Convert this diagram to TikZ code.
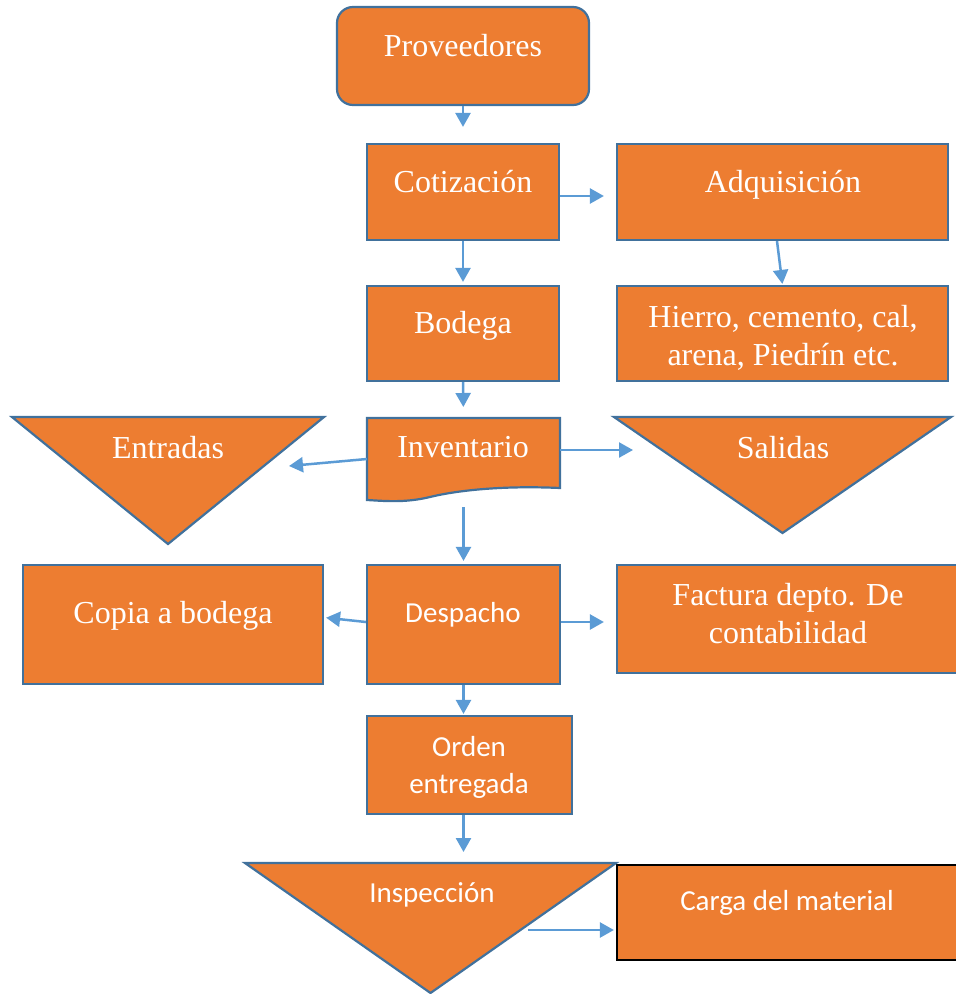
\documentclass[tikz,border=0pt]{standalone}
\usepackage{fontspec}
\newfontfamily\timesfont{Liberation Serif}
\newfontfamily\califont{Carlito}
\usetikzlibrary{arrows.meta,calc}
\definecolor{orf}{HTML}{ED7D31}
\definecolor{bord}{HTML}{41719C}
\definecolor{arrc}{HTML}{5B9BD5}
\begin{document}
\begin{tikzpicture}[x=1pt,y=-1pt,
  box/.style={draw=bord, fill=orf, line width=2.2pt, inner sep=0pt},
  hold/.style={inner sep=0pt, outer sep=0pt},
  shp/.style={draw=bord, fill=orf, line width=2.2pt, line join=miter},
  tr/.style={text=white, font=\timesfont\fontsize{32}{37}\selectfont, anchor=base, inner sep=0pt, align=center},
  cl/.style={text=white, font=\califont\fontsize{29}{38}\selectfont, anchor=base, inner sep=0pt, align=center},
  arr/.style={draw=arrc, line width=2.5pt, -{Triangle[length=14pt,width=15pt]}}]
\useasboundingbox (0,0) rectangle (956,994);

% boxes
\node[box, rounded corners=16pt, minimum width=252pt, minimum height=98pt] (prov) at (463,56) {};
\node[box, minimum width=192pt, minimum height=96pt] (cot) at (463,192) {};
\node[box, minimum width=331pt, minimum height=96pt] (adq) at (782.5,192) {};
\node[box, minimum width=192pt, minimum height=95pt] (bod) at (463,333.5) {};
\node[box, minimum width=331pt, minimum height=95pt] (hie) at (782.5,333.5) {};
\node[box, minimum width=193pt, minimum height=119pt] (desp) at (463.5,624.5) {};
\node[box, minimum width=300pt, minimum height=119pt] (copia) at (173,624.5) {};
\node[box, minimum width=346pt, minimum height=108pt] (fact) at (790,619) {};
\node[box, minimum width=205pt, minimum height=98pt] (orden) at (469.5,765) {};
\node[box, draw=black, minimum width=346pt, minimum height=95pt] (carga) at (790,912.5) {};

% holders for non-rectangular shapes
\node[hold, minimum width=193pt, minimum height=82pt] (inv) at (463.5,459) {};
\node[hold, minimum width=312pt, minimum height=127pt] (entr) at (168,480.5) {};
\node[hold, minimum width=337pt, minimum height=116pt] (sal) at (782.5,475) {};
\node[hold, minimum width=371pt, minimum height=130pt] (insp) at (430.5,928) {};

% Inventario (document shape)
\draw[shp] (inv.north west) -- (inv.north east) -- ($(inv.south east)+(0,-12)$)
  .. controls (495,485) and (450,492) .. (430,497)
  .. controls (405,503) and (385,501) .. (inv.south west) -- cycle;
% triangles
\draw[shp] (entr.north west) -- (entr.north east) -- (entr.south) -- cycle;
\draw[shp] (sal.north west) -- (sal.north east) -- (sal.south) -- cycle;
\draw[shp] (insp.north west) -- (insp.north east) -- (insp.south) -- cycle;

% free ends
\coordinate (entrtip) at (289,466);
\coordinate (saltip) at (633,450);
\coordinate (inspr) at (528,930);

% connectors
\draw[arr, shorten >=16pt] (prov.south) -- (cot.north);
\draw[arr, shorten >=12pt] ([yshift=-4pt]cot.east) -- ([yshift=-4pt]adq.west);
\draw[arr, shorten >=3pt] (cot.south) -- (bod.north);
\draw[arr, shorten >=1pt] ([xshift=-5.5pt]adq.south) -- (hie.north);
\draw[arr, shorten >=11pt] (bod.south) -- (inv.north);
\draw[arr] (inv.west) -- (entrtip);
\draw[arr] ([yshift=9pt]inv.east) -- (saltip);
\draw[arr, shorten <=7pt, shorten >=3pt] (inv.south) -- (desp.north);
\draw[arr, shorten >=2pt] ([yshift=2.5pt]desp.west) -- ([yshift=7pt]copia.east);
\draw[arr, shorten >=12pt] ([yshift=2.5pt]desp.east) -- ([yshift=2.5pt]desp.east -| fact.west);
\draw[arr, shorten >=1pt] (desp.south) -- (desp.south |- orden.north);
\draw[arr, shorten >=11pt] (desp.south |- orden.south) -- (desp.south |- insp.north);
\draw[arr, shorten >=2pt] (inspr) -- (inspr -| carga.west);

% texts
\node[tr] (prov-t) at (463,56) {Proveedores};
\node[tr] (cot-t) at (463,192) {Cotización};
\node[tr] (adq-t) at (783,192) {Adquisición};
\node[tr] (bod-t) at (463,333) {Bodega};
\node[tr] (hie-t1) at (783,327) {Hierro, cemento, cal,};
\node[tr] (hie-t2) at (783,365) {arena, Piedrín etc.};
\node[tr] (entr-t) at (168,458) {Entradas};
\node[tr] (inv-t) at (463,457) {Inventario};
\node[tr] (sal-t) at (783,458) {Salidas};
\node[tr] (copia-t) at (173,623) {Copia a bodega};
\node[cl] (desp-t) at (463,622) {Despacho};
\node[tr] (fact-t1) at (788,605) {Factura depto. De};
\node[tr] (fact-t2) at (788,643) {contabilidad};
\node[cl] (orden-t1) at (469,756) {Orden};
\node[cl] (orden-t2) at (469,793) {entregada};
\node[cl] (insp-t) at (432,902) {Inspección};
\node[cl] (carga-t) at (787,910) {Carga del material};
\end{tikzpicture}
\end{document}
